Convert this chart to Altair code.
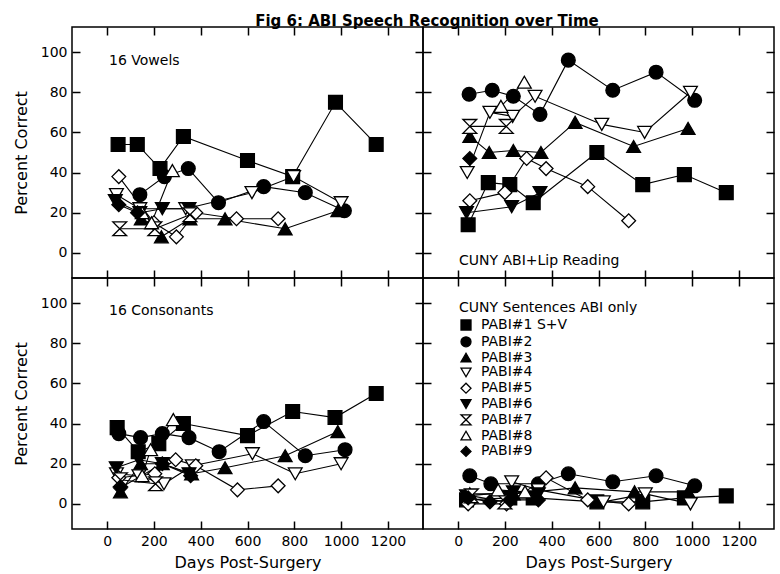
import altair as alt
import pandas as pd

PATIENTS = ["PABI#1 S+V", "PABI#2", "PABI#3", "PABI#4", "PABI#5",
            "PABI#6", "PABI#7", "PABI#8", "PABI#9"]
SHAPES = ["square", "circle", "triangle-up", "triangle-down", "diamond",
          "triangle-down", "M-1,-1L1,-1L-1,1L1,1Z", "triangle-up", "diamond"]
FILLS = ["black", "black", "black", "white", "white",
         "black", "white", "white", "black"]
STROKES = ["black"] * 9

X_TICKS = [0, 200, 400, 600, 800, 1000, 1200]
Y_TICKS = [0, 20, 40, 60, 80, 100]

# 16 Vowels (top left)
vowels_days = {
    "PABI#1 S+V": [47, 129, 226, 326, 600, 793, 976, 1150],
    "PABI#2": [140, 245, 347, 476, 669, 847, 1014],
    "PABI#3": [146, 232, 354, 504, 761, 986],
    "PABI#4": [40, 140, 336, 619, 797, 1000],
    "PABI#5": [50, 200, 296, 379, 553, 731],
    "PABI#6": [35, 140, 236, 350],
    "PABI#7": [54, 204, 354],
    "PABI#8": [150, 190, 279],
    "PABI#9": [50, 130],
}
vowels_pct = {
    "PABI#1 S+V": [54, 54, 42, 58, 46, 38, 75, 54],
    "PABI#2": [29, 38, 42, 25, 33, 30, 21],
    "PABI#3": [17, 8, 17, 17, 12, 21],
    "PABI#4": [29, 22, 22, 30, 38, 25],
    "PABI#5": [38, 15, 8, 20, 17, 17],
    "PABI#6": [26, 20, 22, 22],
    "PABI#7": [12, 12, 19],
    "PABI#8": [20, 15, 41],
    "PABI#9": [24, 20],
}

# CUNY ABI + Lip Reading (top right)
lip_days = {
    "PABI#1 S+V": [43, 129, 221, 321, 593, 789, 967, 1146],
    "PABI#2": [47, 146, 236, 350, 471, 661, 846, 1011],
    "PABI#3": [50, 133, 236, 354, 500, 750, 983],
    "PABI#4": [39, 136, 233, 329, 614, 797, 993],
    "PABI#5": [50, 200, 293, 376, 554, 729],
    "PABI#6": [36, 229, 350],
    "PABI#7": [50, 206],
    "PABI#8": [183, 283],
    "PABI#9": [50],
}
lip_pct = {
    "PABI#1 S+V": [14, 35, 34, 25, 50, 34, 39, 30],
    "PABI#2": [79, 81, 78, 69, 96, 81, 90, 76],
    "PABI#3": [58, 50, 51, 50, 65, 53, 62],
    "PABI#4": [40, 70, 68, 78, 64, 60, 80],
    "PABI#5": [26, 30, 47, 42, 33, 16],
    "PABI#6": [20, 23, 30],
    "PABI#7": [63, 63],
    "PABI#8": [73, 85],
    "PABI#9": [47],
}

# 16 Consonants (bottom left)
cons_days = {
    "PABI#1 S+V": [43, 133, 221, 326, 600, 793, 974, 1150],
    "PABI#2": [50, 143, 236, 350, 479, 669, 847, 1017],
    "PABI#3": [57, 143, 236, 361, 504, 761, 986],
    "PABI#4": [40, 136, 243, 364, 621, 804, 1000],
    "PABI#5": [50, 204, 293, 379, 557, 731],
    "PABI#6": [39, 136, 236, 350],
    "PABI#7": [57, 207],
    "PABI#8": [150, 186, 283],
    "PABI#9": [57, 236, 357],
}
cons_pct = {
    "PABI#1 S+V": [38, 26, 30, 40, 34, 46, 43, 55],
    "PABI#2": [35, 33, 35, 33, 26, 41, 24, 27],
    "PABI#3": [6, 20, 20, 15, 18, 24, 36],
    "PABI#4": [15, 14, 10, 19, 25, 15, 20],
    "PABI#5": [13, 15, 22, 19, 7, 9],
    "PABI#6": [18, 22, 20, 15],
    "PABI#7": [12, 10],
    "PABI#8": [14, 27, 42],
    "PABI#9": [8, 20, 14],
}

# CUNY Sentences ABI only (bottom right)
sent_days = {
    "PABI#1 S+V": [36, 221, 321, 593, 789, 967, 1146],
    "PABI#2": [50, 140, 343, 471, 661, 846, 1011],
    "PABI#3": [50, 236, 500, 754, 983],
    "PABI#4": [229, 343, 621, 800, 993],
    "PABI#5": [43, 207, 376, 554, 729],
    "PABI#6": [36, 236, 343],
    "PABI#7": [57, 200],
    "PABI#8": [171, 286],
    "PABI#9": [43, 136, 221, 343],
}
sent_pct = {
    "PABI#1 S+V": [2, 3, 3, 1, 1, 3, 4],
    "PABI#2": [14, 10, 10, 15, 11, 14, 9],
    "PABI#3": [5, 5, 8, 6, 6],
    "PABI#4": [11, 7, 1, 5, 0],
    "PABI#5": [0, 0, 13, 2, 0],
    "PABI#6": [4, 6, 5],
    "PABI#7": [4, 1],
    "PABI#8": [7, 6],
    "PABI#9": [3, 1, 2, 2],
}

FONT = "DejaVu Sans"
W, H = 351, 251


def to_frame(days, pcts):
    rows = []
    for p in PATIENTS:
        for d, v in zip(days[p], pcts[p]):
            rows.append({"patient": p, "day": d, "pct": v})
    return pd.DataFrame(rows)


def axis(orient, values, labels, title=None, title_pad=6):
    kw = dict(orient=orient, values=values, labels=labels, tickSize=8, offset=-8,
              domain=False, grid=False, ticks=True, tickColor="black",
              tickWidth=1.5, labelFont=FONT, labelFontSize=14, format="d",
              labelColor="black", labelPadding=5, titleFont=FONT,
              titleFontSize=16, titleFontWeight="normal", titleColor="black")
    if title:
        kw["title"] = title
        kw["titlePadding"] = title_pad
    else:
        kw["title"] = None
    return alt.Axis(**kw)


xs = alt.Scale(domain=[-150, 1350], nice=False, zero=False)
ys = alt.Scale(domain=[-12.5, 112.5], nice=False, zero=False)
shape_scale = alt.Scale(domain=PATIENTS, range=SHAPES)
fill_scale = alt.Scale(domain=PATIENTS, range=FILLS)
stroke_scale = alt.Scale(domain=PATIENTS, range=STROKES)


def panel(days, pcts, label, lx, ly, left, bottom, legend=False):
    df = to_frame(days, pcts)
    base = alt.Chart(df)
    lines = base.mark_line(color="black", strokeWidth=1.1).encode(
        x=alt.X("day:Q", scale=xs, axis=axis("top", X_TICKS, False)),
        y=alt.Y("pct:Q", scale=ys, axis=axis("right", Y_TICKS, False)),
        detail="patient:N",
    )
    if legend:
        leg = alt.Legend(title="CUNY Sentences ABI only", orient="none",
                         legendX=36, legendY=23, symbolSize=100,
                         symbolStrokeWidth=1.3,
                         rowPadding=0.8, labelOffset=8)
    else:
        leg = None
    shape_enc = alt.Shape("patient:N", scale=shape_scale, legend=leg)
    fill_enc = alt.Fill("patient:N", scale=fill_scale, legend=leg)
    stroke_enc = alt.Stroke("patient:N", scale=stroke_scale, legend=leg)
    pts = base.mark_point(filled=False, opacity=1,
                          strokeWidth=1.3, size=190).encode(
        x=alt.X("day:Q", scale=xs,
                axis=axis("bottom", X_TICKS, bottom,
                          "Days Post-Surgery" if bottom else None, 6)),
        y=alt.Y("pct:Q", scale=ys,
                axis=axis("left", Y_TICKS, left,
                          "Percent Correct" if left else None, 11)),
        shape=shape_enc,
        fill=fill_enc,
        stroke=stroke_enc,
    )
    layers = [lines, pts]
    if label:
        txt = alt.Chart(pd.DataFrame({"t": [label]})).mark_text(
            align="left", baseline="alphabetic", font=FONT, fontSize=14,
            color="black").encode(text="t:N", x=alt.value(lx), y=alt.value(ly))
        layers.append(txt)
    return alt.layer(*layers).resolve_axis(x="independent", y="independent").properties(
        width=W, height=H)


p_vow = panel(vowels_days, vowels_pct, "16 Vowels", 37, 38, True, False)
p_lip = panel(lip_days, lip_pct, "CUNY ABI+Lip Reading", 36, 238, False, False)
p_con = panel(cons_days, cons_pct, "16 Consonants", 37, 37, True, True)
p_sen = panel(sent_days, sent_pct, None, 0, 0, False, True, legend=True)

chart = alt.concat(p_vow, p_lip, p_con, p_sen, columns=2, spacing=0,
                   bounds="flush").resolve_scale(
    shape="independent", fill="independent", stroke="independent").properties(
    title=alt.TitleParams("Fig 6: ABI Speech Recognition over Time",
                          anchor="middle", font=FONT,
                          fontSize=15, fontWeight="bold", color="black",
                          offset=-3, dx=33),
    padding={"left": 12, "top": 13, "right": 0, "bottom": 0},
).configure_view(stroke="black", strokeWidth=1.5).configure_legend(
    titleFont=FONT, titleFontSize=14, titleFontWeight="normal",
    titleColor="black", labelFont=FONT, labelFontSize=14, labelColor="black",
    titlePadding=3,
)

chart.save("out.html", embed_options={"renderer": "svg", "actions": False})
